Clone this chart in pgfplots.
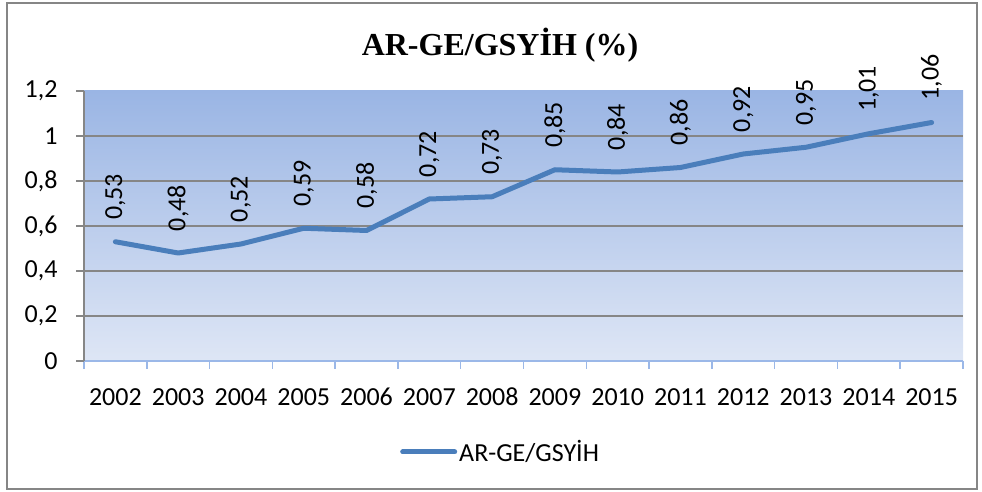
\documentclass[border=0pt]{standalone}
\usepackage{fontspec}
\setmainfont{Carlito}
\newfontfamily\titlefont{Liberation Serif}
\usepackage{pgfplots}
\pgfplotsset{compat=1.18}
\definecolor{linecol}{HTML}{4A7EBB}
\definecolor{gridcol}{HTML}{868686}
\definecolor{topbg}{HTML}{9AB5E4}
\definecolor{botbg}{HTML}{DEE6F5}
\definecolor{xaxcol}{HTML}{9BB8E8}
\begin{document}
\begin{tikzpicture}[x=1pt,y=1pt]
\useasboundingbox (0,0) rectangle (982,492);
\draw[gridcol, line width=1.5pt] (7,3) rectangle (977,489);
\node[font=\titlefont\bfseries\fontsize{32}{36}\selectfont] at (500,447) {AR-GE/GSYİH (\%)};
\begin{axis}[
  at={(84pt,131pt)}, anchor=south west,
  width=879pt, height=270pt, scale only axis,
  xmin=-0.5, xmax=13.5, ymin=0, ymax=1.2,
  clip=false,
  axis x line*=bottom, axis y line*=left,
  x axis line style={xaxcol, line width=1.5pt},
  y axis line style={gridcol, line width=1.5pt},
  axis background/.style={top color=topbg, bottom color=botbg},
  xtick={0,...,13},
  xticklabels={2002,2003,2004,2005,2006,2007,2008,2009,2010,2011,2012,2013,2014,2015},
  minor xtick={-0.5,0.5,...,13.5},
  major x tick style={draw=none},
  minor x tick style={xaxcol, line width=1.5pt},
  y tick style={gridcol, line width=1.5pt},
  tick align=outside,
  major tick length=8pt, minor tick length=8pt,
  ytick={0,0.2,0.4,0.6,0.8,1},
  extra y ticks={1.2},
  extra y tick style={grid=none},
  ymajorgrids=true,
  grid style={gridcol, line width=1.5pt},
  /pgf/number format/assume math mode=true,
  yticklabel style={/pgf/number format/.cd, fixed, use comma, precision=1, /tikz/.cd, font=\fontsize{26}{30}\selectfont, xshift=-15pt},
  xticklabel style={font=\fontsize{26}{30}\selectfont, text height=17pt, text depth=0pt, yshift=-16pt},
  legend style={at={(axis description cs:0.3595,-0.337)}, anchor=west, draw=none, fill=none, inner sep=0pt,
    font=\fontsize{26}{30}\selectfont, nodes={inner sep=2pt}},
  legend image code/.code={\draw[#1, line width=5pt, line cap=round] (0pt,0pt) -- (52pt,0pt);},
  nodes near coords={\pgfmathprintnumber[fixed, precision=2, use comma]{\pgfplotspointmeta}},
  every node near coord/.append style={font=\fontsize{26}{30}\selectfont, yshift=16pt, rotate=90, anchor=west, text=black},
]
\addplot[linecol, line width=5pt, line cap=round, line join=round] coordinates {
(0,0.53) (1,0.48) (2,0.52) (3,0.59) (4,0.58) (5,0.72) (6,0.73)
(7,0.85) (8,0.84) (9,0.86) (10,0.92) (11,0.95) (12,1.01) (13,1.06)};
\addlegendentry{AR-GE/GSYİH}
\end{axis}
\end{tikzpicture}
\end{document}
